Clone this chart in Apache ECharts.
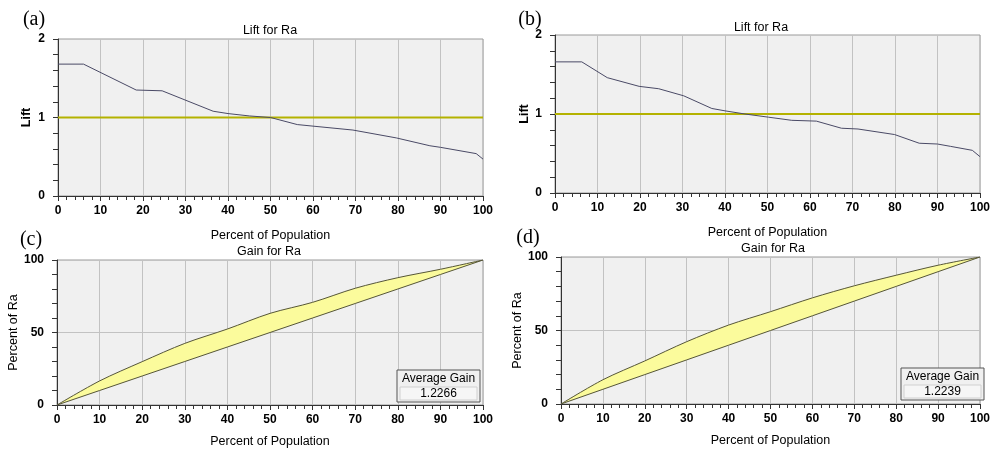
<!DOCTYPE html>
<html>
<head>
<meta charset="utf-8">
<script src="https://cdn.jsdelivr.net/npm/echarts@6/dist/echarts.min.js"></script>
<style>html,body{margin:0;padding:0;background:#fff}#c{width:993px;height:450px}</style>
</head>
<body>
<div id="c"></div>
<script>
// ---- data ----
const panelLabels = ['(a)', '(b)', '(c)', '(d)'];
const liftTitle = 'Lift for Ra';
const gainTitle = 'Gain for Ra';
const xName = 'Percent of Population';
const liftYName = 'Lift';
const gainYName = 'Percent of Ra';
const liftBaselineValue = 1;
const liftA = [[0,1.68],[6,1.68],[18.4,1.35],[24.5,1.34],[36.5,1.08],[40,1.05],[45,1.02],[50,1.0],[56.3,0.91],[60,0.89],[69.4,0.84],[79.6,0.74],[87.5,0.64],[90,0.62],[98.4,0.54],[100,0.47]];
const liftB = [[0,1.66],[6.3,1.66],[12.3,1.46],[19.8,1.35],[24.4,1.32],[30.3,1.23],[36.9,1.07],[40,1.04],[44.7,1.0],[50.2,0.96],[55.7,0.92],[61.5,0.91],[67.4,0.82],[71.3,0.81],[79.9,0.74],[85.7,0.63],[90,0.62],[93.1,0.59],[98.2,0.54],[100,0.46]];
const gainX = [0,10,20,30,40,50,60,70,80,90,100];
const gainBaseline = [0,10,20,30,40,50,60,70,80,90,100];
const gainC = [0,16.6,29.9,42.5,52.4,63.2,70.8,80.5,87.8,93.6,100];
const gainD = [0,16.5,29.3,42.4,53.7,62.8,72.2,80.4,87.6,94.4,100];
const avgGainC = '1.2266';
const avgGainD = '1.2239';
const avgGainLabel = 'Average Gain';

// ---- layout / style ----
const FONT = '"Liberation Sans", Arial, sans-serif';
const grids = [
  {left:58, top:39, width:425, height:157},
  {left:555, top:35, width:427, height:158},
  {left:57, top:260, width:426, height:145},
  {left:561, top:257, width:425, height:147}
];
const axisColor = '#333';
const SMOOTH = 0.3;
function xAxis(i, gap) {
  return {
    type:'value', gridIndex:i, min:0, max:100, interval:10,
    name:xName, nameLocation:'middle', nameGap:gap,
    nameTextStyle:{fontFamily:FONT, fontSize:12.5, color:'#000'},
    axisLine:{show:true, onZero:false, lineStyle:{color:axisColor}},
    axisTick:{show:true, length:5, lineStyle:{color:axisColor}},
    minorTick:{show:true, splitNumber:5, length:4, lineStyle:{color:axisColor}},
    splitLine:{show:true, lineStyle:{color:'#c2c2c2'}},
    axisLabel:{margin:9, fontFamily:FONT, fontSize:12, fontWeight:'bold', color:'#000'}
  };
}
function yAxis(i, max, interval, name, gap, split) {
  return {
    type:'value', gridIndex:i, min:0, max:max, interval:interval,
    name:name, nameLocation:'middle', nameGap:gap,
    nameTextStyle:{fontFamily:FONT, fontSize:12.5, color:'#000', fontWeight: name===liftYName?'bold':'normal'},
    axisLine:{show:true, onZero:false, lineStyle:{color:axisColor}},
    axisTick:{show:true, length:5, lineStyle:{color:axisColor}},
    minorTick:{show:true, splitNumber:5, length:5, lineStyle:{color:axisColor}},
    splitLine:{show:split, lineStyle:{color:'#c2c2c2'}},
    axisLabel:{margin:13, fontFamily:FONT, fontSize:12, fontWeight:'bold', color:'#000'}
  };
}
const titleStyle = {fontFamily:FONT, fontSize:12.5, fontWeight:'normal', color:'#000'};
const titles = [
  {text:liftTitle, left:270, top:24},
  {text:liftTitle, left:761, top:21},
  {text:gainTitle, left:269, top:245},
  {text:gainTitle, left:773, top:242}
].map(t => Object.assign(t, {textAlign:'center', padding:0, textStyle:titleStyle}));

function liftSeries(i, data) {
  return [
    {type:'line', xAxisIndex:i, yAxisIndex:i, data:[[0,liftBaselineValue],[100,liftBaselineValue]],
     symbol:'none', lineStyle:{color:'#b4b200', width:2}, z:3, silent:true},
    {type:'line', xAxisIndex:i, yAxisIndex:i, data:data, symbol:'none',
     lineStyle:{color:'#4a4a66', width:1}, z:4, silent:true}
  ];
}
function gainSeries(i, upper) {
  return [
    {type:'custom', xAxisIndex:i, yAxisIndex:i, data:[[0,0]], z:2, silent:true,
     renderItem:function(params, api){
       const top = gainX.map((x,k)=>api.coord([x, upper[k]]));
       const bot = [api.coord([gainX[gainX.length-1], gainBaseline[gainBaseline.length-1]]), api.coord([gainX[0], gainBaseline[0]])];
       return {type:'group', children:[
         {type:'polyline', shape:{points:top, smooth:SMOOTH}, style:{fill:'#fbfb9c', stroke:null}},
         {type:'polygon', shape:{points:[top[0]].concat(top.slice(1,-1)).concat(bot)}, style:{fill:'#fbfb9c', stroke:null}}
       ]};
     }},
    {type:'line', xAxisIndex:i, yAxisIndex:i, symbol:'none',
     data:gainX.map((x,k)=>[x, gainBaseline[k]]),
     lineStyle:{color:'#55553a', width:1}, z:4, silent:true},
    {type:'line', xAxisIndex:i, yAxisIndex:i, symbol:'none', smooth:SMOOTH,
     data:gainX.map((x,k)=>[x, upper[k]]),
     lineStyle:{color:'#55553a', width:1}, z:4, silent:true}
  ];
}
function avgBox(x, y, value) {
  const w = 83, h = 32;
  const ts = {fontSize:12, fontFamily:FONT, fill:'#000', align:'center', verticalAlign:'middle'};
  return {
    type:'group', x:x, y:y, z:100,
    children:[
      {type:'rect', z:100, shape:{x:0, y:0, width:w, height:h}, style:{fill:'#f0f0f0', stroke:'#555', lineWidth:1}},
      {type:'rect', z:101, shape:{x:3, y:17, width:w-6, height:13}, style:{fill:'#f6f6f6', stroke:'#d0d0d0', lineWidth:1}},
      {type:'text', z:102, style:Object.assign({text:avgGainLabel, x:w/2, y:9}, ts)},
      {type:'text', z:102, style:Object.assign({text:value, x:w/2, y:24}, ts)}
    ]
  };
}
const labelPos = [[34,20],[530,20],[31,240],[528,238]];
const graphics = panelLabels.map((t,i)=>({
  type:'text', z:100,
  style:{text:t, x:labelPos[i][0], y:labelPos[i][1], align:'center', verticalAlign:'middle',
         fontSize:20, fontFamily:'"Liberation Serif", "Times New Roman", serif', fill:'#000'}
}));
graphics.push(avgBox(397, 370, avgGainC));
graphics.push(avgBox(901, 368, avgGainD));

const option = {
  animation:false,
  backgroundColor:'#fff',
  title:titles,
  grid:grids.map(g=>Object.assign({show:true, backgroundColor:'#f0f0f0', borderColor:'#9a9a9a', borderWidth:1, containLabel:false}, g)),
  xAxis:[xAxis(0,33), xAxis(1,33), xAxis(2,30), xAxis(3,30)],
  yAxis:[yAxis(0,2,1,liftYName,25,false), yAxis(1,2,1,liftYName,24,false),
         yAxis(2,100,50,gainYName,36,true), yAxis(3,100,50,gainYName,35,true)],
  series:[].concat(liftSeries(0,liftA), liftSeries(1,liftB), gainSeries(2,gainC), gainSeries(3,gainD)),
  graphic:graphics
};
const chart = echarts.init(document.getElementById('c'), null, {renderer:'canvas'});
chart.setOption(option);
</script>
</body>
</html>
